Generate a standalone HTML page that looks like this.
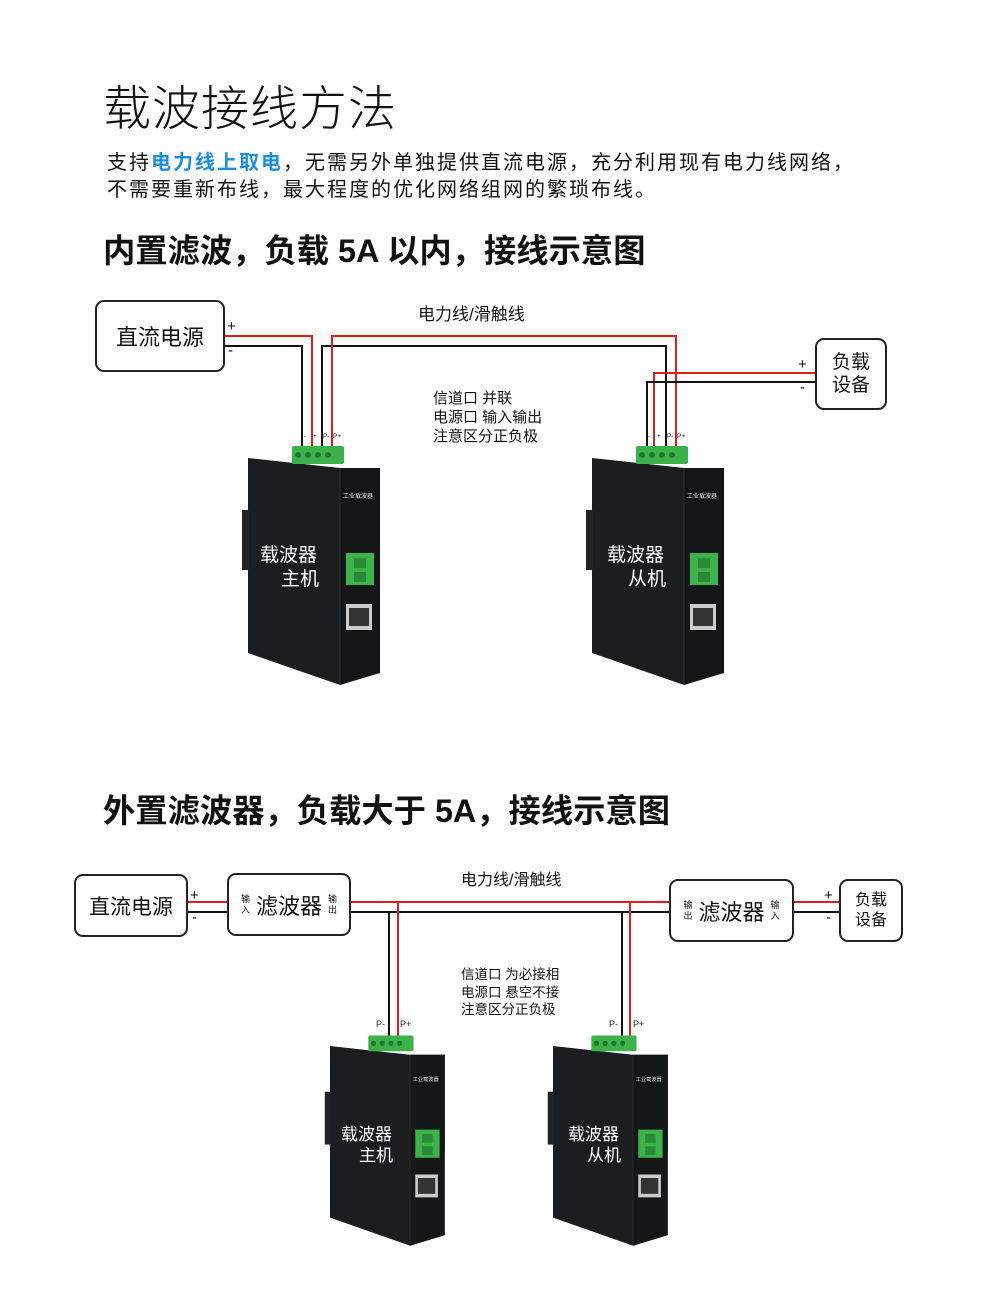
<!DOCTYPE html>
<html><head><meta charset="utf-8"><style>
body{margin:0;background:#fff;width:1000px;height:1315px;position:relative;overflow:hidden;font-family:"Liberation Sans","Noto Sans CJK SC",sans-serif;color:#111}
.a{position:absolute;white-space:nowrap}
.box{position:absolute;border:2px solid #222;border-radius:9px;box-sizing:border-box;background:#fff;display:flex;align-items:center;justify-content:center;text-align:center}
</style></head><body>
<div class="a" style="left:103px;top:69px;font-size:48px;font-weight:300;letter-spacing:1px">载波接线方法</div>
<div class="a" style="left:107px;top:150px;font-size:20px;line-height:27px;letter-spacing:2px">支持<b style="color:#1a8fe0">电力线上取电</b>，无需另外单独提供直流电源，充分利用现有电力线网络，<br>不需要重新布线，最大程度的优化网络组网的繁琐布线。</div>
<div class="a" style="left:103px;top:226px;font-size:32.3px;font-weight:bold">内置滤波，负载 5A 以内，接线示意图</div>
<div class="a" style="left:103px;top:786px;font-size:32.3px;font-weight:bold">外置滤波器，负载大于 5A，接线示意图</div>

<svg class="a" style="left:0;top:0" width="1000" height="1315">
<defs>
<g id="dev">
<polygon points="0,0 92,10 132,10 132,120 128,122 128,215 92,227 0,195" fill="#1c1d1f"/>
<polygon points="92,10 132,10 132,215 92,227" fill="#151617"/>
<line x1="92" y1="10" x2="92" y2="227" stroke="#2c2d2f"/>
<rect x="-6" y="52" width="7" height="60" fill="#222"/>
<rect x="98" y="95" width="28" height="32" fill="#3db24a"/>
<rect x="106" y="100" width="12" height="10" fill="#2a8a36"/><rect x="106" y="114" width="12" height="10" fill="#2a8a36"/>
<rect x="98" y="146" width="26" height="26" fill="#ccc"/><rect x="101" y="150" width="20" height="18" fill="#333"/>
<text x="95" y="40" font-size="6" fill="#ddd">工业载波器</text>
<rect x="44" y="-12" width="52" height="18" fill="#3db24a" rx="2"/>
<circle cx="50" cy="-3" r="3" fill="#1e7a2c"/><circle cx="60" cy="-3" r="3" fill="#1e7a2c"/><circle cx="70" cy="-3" r="3" fill="#1e7a2c"/><circle cx="80" cy="-3" r="3" fill="#1e7a2c"/>
</g>
</defs>
<g fill="none" stroke-width="2">
<polyline points="224,336 312,336 312,448" stroke="#e31b1b"/>
<polyline points="224,346 302,346 302,448" stroke="#111"/>
<polyline points="322,448 322,346 666,346 666,448" stroke="#111"/>
<polyline points="332,448 332,336 676,336 676,448" stroke="#e31b1b"/>
<polyline points="815,373 654,373 654,448" stroke="#e31b1b"/>
<polyline points="815,382 647,382 647,448" stroke="#111"/>
<line x1="186" y1="902" x2="228" y2="902" stroke="#e31b1b"/>
<line x1="186" y1="912" x2="228" y2="912" stroke="#111"/>
<line x1="349" y1="902" x2="670" y2="902" stroke="#e31b1b"/>
<line x1="349" y1="912" x2="670" y2="912" stroke="#111"/>
<line x1="792" y1="902" x2="840" y2="902" stroke="#e31b1b"/>
<line x1="792" y1="912" x2="840" y2="912" stroke="#111"/>
<line x1="389" y1="912" x2="389" y2="1040" stroke="#111"/>
<line x1="398" y1="902" x2="398" y2="1040" stroke="#e31b1b"/>
<line x1="622" y1="912" x2="622" y2="1040" stroke="#111"/>
<line x1="630" y1="902" x2="630" y2="1040" stroke="#e31b1b"/>
</g>
<use href="#dev" x="248" y="458"/>
<use href="#dev" x="592" y="458"/>
<g transform="translate(330,1046) scale(0.87,0.88)"><use href="#dev"/></g>
<g transform="translate(553,1046) scale(0.87,0.88)"><use href="#dev"/></g>
<g font-size="6.5" fill="#222">
<text x="304" y="438">-</text><text x="313" y="438">+</text><text x="323" y="438">P-</text><text x="333" y="438">P+</text>
<text x="648" y="438">-</text><text x="657" y="438">+</text><text x="667" y="438">P-</text><text x="677" y="438">P+</text>
</g>
<g font-size="9" fill="#222">
<text x="376" y="1027">P-</text><text x="400" y="1027">P+</text>
<text x="609" y="1027">P-</text><text x="633" y="1027">P+</text>
</g>
<g font-size="19" fill="#fff" font-family="Liberation Sans,Noto Sans CJK SC,sans-serif">
<text x="260" y="561">载波器</text><text x="281" y="585">主机</text>
<text x="607" y="561">载波器</text><text x="628" y="585">从机</text>
<text x="341" y="1140" font-size="17">载波器</text><text x="359" y="1161" font-size="17">主机</text>
<text x="568" y="1140" font-size="17">载波器</text><text x="587" y="1161" font-size="17">从机</text>
</g>
<g font-size="15" fill="#111">
<text x="227" y="331">+</text><text x="228" y="355">-</text>
<text x="798" y="369">+</text><text x="800" y="392">-</text>
<text x="190" y="900">+</text><text x="192" y="922">-</text>
<text x="824" y="900">+</text><text x="826" y="922">-</text>
</g>
</svg>

<div class="box" style="left:95px;top:300px;width:130px;height:72px;font-size:22px">直流电源</div>
<div class="box" style="left:815px;top:338px;width:72px;height:72px;font-size:19px;line-height:23px">负载<br>设备</div>
<div class="a" style="left:418px;top:300px;font-size:17px">电力线/滑触线</div>
<div class="a" style="left:433px;top:389px;font-size:15px;line-height:19px">信道口 并联<br>电源口 输入输出<br>注意区分正负极</div>

<div class="box" style="left:74px;top:874px;width:114px;height:63px;font-size:21px">直流电源</div>
<div class="box" style="left:227px;top:873px;width:124px;height:63px;font-size:22px"><span style="font-size:9px;line-height:11px;margin-right:6px">输<br>入</span>滤波器<span style="font-size:9px;line-height:11px;margin-left:6px">输<br>出</span></div>
<div class="box" style="left:669px;top:879px;width:125px;height:63px;font-size:22px"><span style="font-size:9px;line-height:11px;margin-right:6px">输<br>出</span>滤波器<span style="font-size:9px;line-height:11px;margin-left:6px">输<br>入</span></div>
<div class="box" style="left:839px;top:879px;width:64px;height:63px;font-size:16px;line-height:20px">负载<br>设备</div>
<div class="a" style="left:461px;top:866px;font-size:16px">电力线/滑触线</div>
<div class="a" style="left:461px;top:966px;font-size:13.5px;line-height:17.5px">信道口 为必接相<br>电源口 悬空不接<br>注意区分正负极</div>
</body></html>
